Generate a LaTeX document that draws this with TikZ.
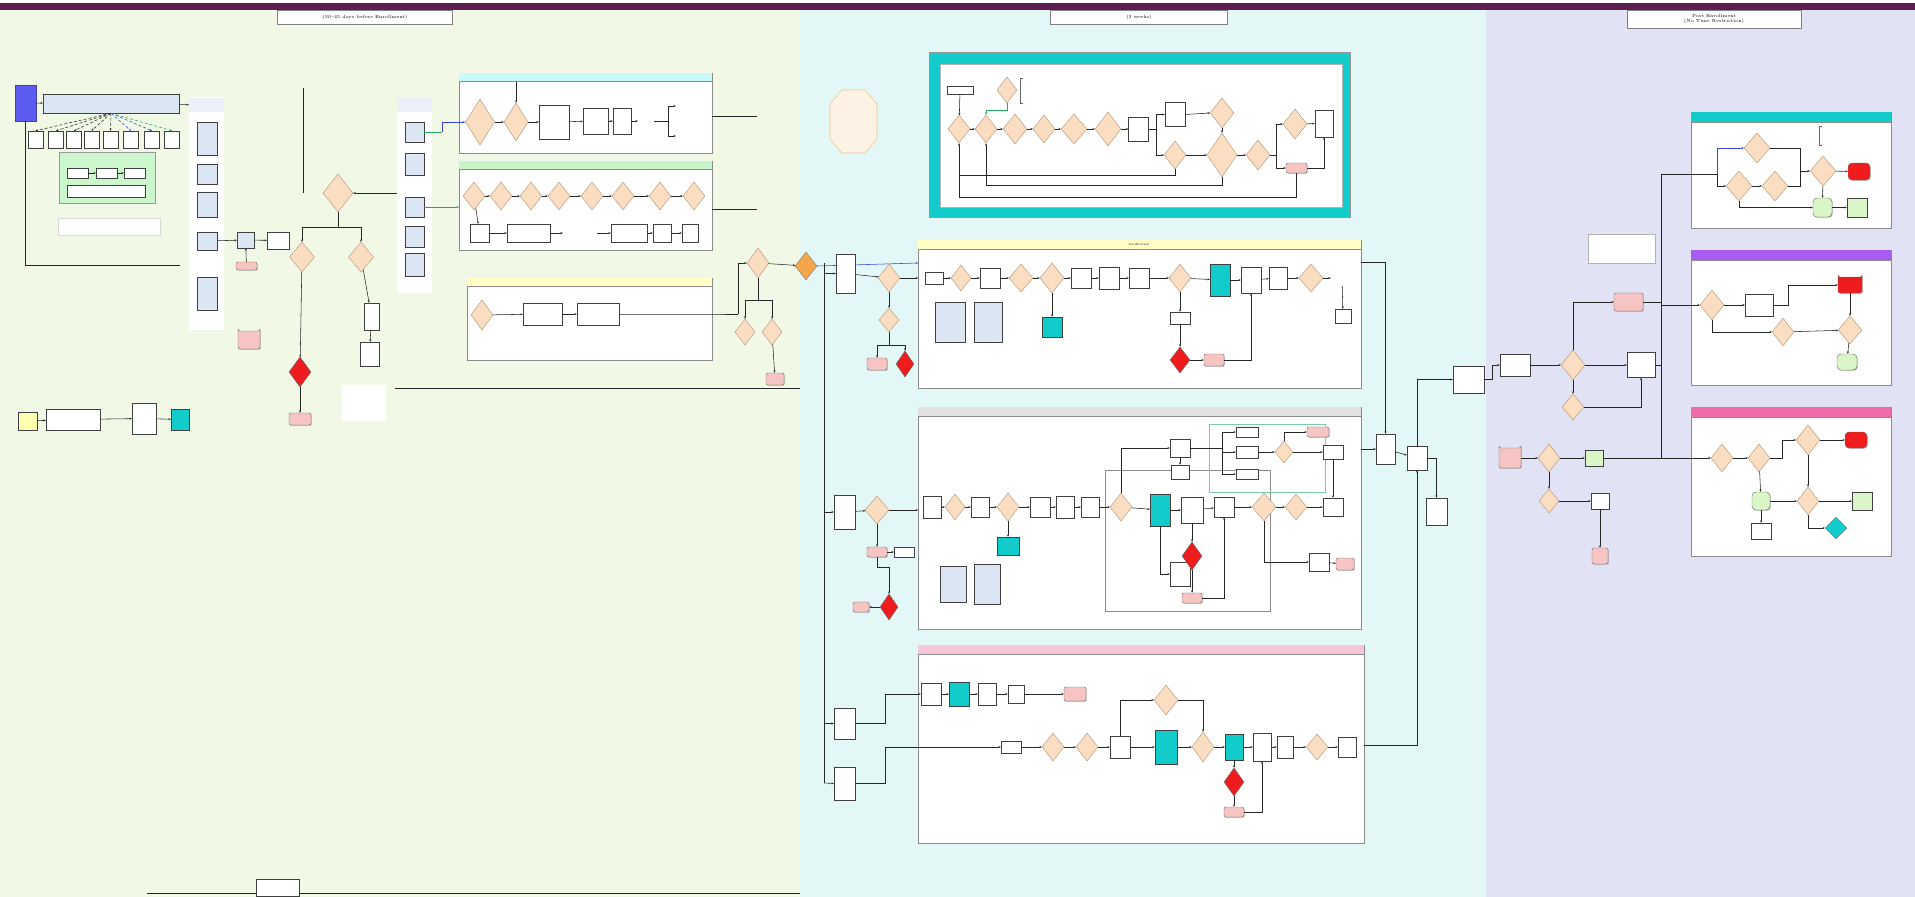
\documentclass[tikz,border=0pt]{standalone}
\usetikzlibrary{shapes.geometric,shapes.misc,arrows.meta,shadows}
\definecolor{barpurple}{HTML}{5F1E50}
\definecolor{leftbg}{HTML}{F1F9E6}
\definecolor{midbg}{HTML}{E3F7F6}
\definecolor{rightbg}{HTML}{E2E2F5}
\definecolor{peach}{HTML}{FBDDC2}
\definecolor{peachline}{HTML}{B89878}
\definecolor{paleblue}{HTML}{DCE6F2}
\definecolor{tealbox}{HTML}{12CCCC}
\definecolor{pinkbox}{HTML}{F7C4C4}
\definecolor{redbox}{HTML}{EE1C1C}
\definecolor{greenbox}{HTML}{DAF5C6}
\definecolor{greenpanel}{HTML}{CCF6CC}
\definecolor{orangebox}{HTML}{F5A64A}
\definecolor{violetbox}{HTML}{5C5CF2}
\definecolor{hdcyan}{HTML}{C8FAFA}
\definecolor{hdgreen}{HTML}{C8F5C8}
\definecolor{hdyellow}{HTML}{FFFFC6}
\definecolor{hdgrey}{HTML}{E2E2E2}
\definecolor{hdpink}{HTML}{F7C6DA}
\definecolor{hdviolet}{HTML}{A85CF2}
\definecolor{hdrose}{HTML}{F06AA8}
\definecolor{notefill}{HTML}{FDF2E4}
\definecolor{noteline}{HTML}{F2C890}
\definecolor{flowblue}{HTML}{3344DD}
\definecolor{flowgreen}{HTML}{22AA66}
\definecolor{startyellow}{HTML}{FFFFB0}
\begin{document}
\begin{tikzpicture}[x=1pt,y=-1pt,>={Stealth[length=2.4pt,width=2pt]}]
  \tikzstyle{txt}=[rectangle,inner sep=0pt,font=\fontsize{3}{3.6}\selectfont,align=center]
  \tikzstyle{proc}=[txt,draw=black!75,fill=white,line width=0.45pt,general shadow={fill=black!35,shadow xshift=0.7pt,shadow yshift=-0.7pt}]
  \tikzstyle{bproc}=[proc,fill=paleblue]
  \tikzstyle{cproc}=[proc,fill=tealbox]
  \tikzstyle{gproc}=[proc,fill=greenbox]
  \tikzstyle{term}=[proc,rounded corners=2pt,fill=pinkbox,draw=black!55]
  \tikzstyle{dec}=[diamond,draw=peachline,fill=peach,line width=0.45pt,inner sep=0pt]
  \tikzstyle{rdec}=[dec,fill=redbox,draw=black!60]
  \tikzstyle{panel}=[draw=black!45,fill=white,line width=0.6pt,general shadow={fill=black!25,shadow xshift=1pt,shadow yshift=-1pt}]
  \tikzstyle{hdr}=[txt,draw=black!50,fill=white,font=\fontsize{4.5}{5.5}\selectfont]
  \tikzstyle{edge}=[draw=black!85,line width=0.55pt,->]
  \tikzstyle{wire}=[draw=black!85,line width=0.55pt]

  % backgrounds of the three phases
  \fill[white] (0,0) rectangle (1915,897);
  \fill[leftbg] (0,10) rectangle (800,897);
  \fill[midbg] (800,10) rectangle (1486,897);
  \fill[rightbg] (1486,10) rectangle (1915,897);
  \fill[barpurple] (0,2.5) rectangle (1915,10);
  \node[hdr,minimum width=175,minimum height=14] (hpre) at (365,17) {(30--45 days before Enrollment)};
  \node[hdr,minimum width=177,minimum height=14] (henr) at (1139,17) {(3 weeks)};
  \node[hdr,minimum width=174,minimum height=18] (hpost) at (1714,19) {Post Enrollment\\(No Time Restriction)};

  % pre enrollment: intake
  \node[proc,fill=violetbox,draw=violetbox!70!black,minimum width=21,minimum height=36] (entry) at (25.5,103) {};
  \node[bproc,minimum width=136,minimum height=19] (intake) at (111,103.5) {};
  \fill[white] (189,97) rectangle (224,330);
  \node[txt,fill=paleblue!60,minimum width=35,minimum height=14] (nexthd) at (206.5,105) {};
  \draw[edge] (entry) -- (intake);
  \draw[edge] (intake) -- (nexthd);
  \foreach \x [count=\i] in {35.5,56,74,91.5,110.5,131,152,172}
    \node[proc,minimum width=15,minimum height=17] (sb\i) at (\x,139.5) {};
  \foreach \i in {1,...,5}
    \draw[edge,densely dashed] (intake.south) -- (sb\i.north);
  \draw[edge,densely dashed,flowblue] (intake.south) -- (sb6.north);
  \draw[edge,densely dashed,flowblue] (intake.south) -- (sb7.north);
  \draw[edge,densely dashed,flowgreen] (intake.south) -- (sb8.north);
  \draw[draw=black!40,fill=greenpanel] (59,152) rectangle (155,203);
  \node[proc,minimum width=21,minimum height=10] (gs1) at (77.5,173) {};
  \node[proc,minimum width=21,minimum height=10] (gs2) at (106.5,173) {};
  \node[proc,minimum width=21,minimum height=10] (gs3) at (134.5,173) {};
  \node[proc,minimum width=78,minimum height=12] (gs4) at (106,191) {};
  \draw[edge] (gs1) -- (gs2);
  \draw[edge] (gs2) -- (gs3);
  \node[txt,draw=black!15,fill=white,minimum width=102,minimum height=17] (legnote) at (109,227) {};
  \coordinate (leftend) at (180,265);
  \draw[wire] (entry.south) |- (leftend);

  % provider column
  \node[bproc,minimum width=20,minimum height=33] (col1) at (207,138.5) {};
  \node[bproc,minimum width=20,minimum height=20] (col2) at (207,174) {};
  \node[bproc,minimum width=20,minimum height=25] (col3) at (207,204.5) {};
  \node[bproc,minimum width=20,minimum height=18] (col4) at (207,241) {};
  \node[bproc,minimum width=20,minimum height=33] (col5) at (207,293.5) {};
  \node[bproc,minimum width=17,minimum height=16] (tgt) at (245.5,240) {};
  \node[term,minimum width=21,minimum height=8] (tgtp) at (246.5,266) {};
  \node[proc,minimum width=22,minimum height=17] (tgtb) at (278,240.5) {};
  \draw[edge] (col4) -- (tgt);
  \draw[edge] (tgtp) -- (tgt);
  \draw[edge] (tgt) -- (tgtb);

  % eligibility checks
  \node[dec,minimum width=30,minimum height=38] (dchk) at (338,193) {};
  \node[dec,minimum width=25,minimum height=30] (dlft) at (302,257) {};
  \node[dec,minimum width=25,minimum height=30] (drgt) at (361,257) {};
  \coordinate (topv) at (303,88);
  \coordinate (topvend) at (303,193);
  \coordinate (split) at (338,227);
  \draw[wire] (topv) -- (topvend);
  \draw[wire] (dchk.south) -- (split);
  \draw[edge] (split) -| (dlft.north);
  \draw[edge] (split) -| (drgt.north);
  \node[term,chamfered rectangle,minimum width=22,minimum height=18] (hexp) at (249,340) {};
  \node[rdec,minimum width=22,minimum height=30] (stopd) at (300,372) {};
  \node[term,minimum width=22,minimum height=12] (stopp) at (300,419) {};
  \node[proc,minimum width=15,minimum height=27] (rb1l) at (371.5,316.5) {};
  \node[proc,minimum width=19,minimum height=24] (rb2l) at (369.5,354) {};
  \node[txt,fill=white,minimum width=44,minimum height=36] (rnote) at (364,403) {};
  \draw[edge] (dlft) -- (stopd);
  \draw[edge] (stopd) -- (stopp);
  \draw[edge] (drgt) -- (rb1l);
  \draw[edge] (rb1l) -- (rb2l);

  % additional providers column
  \fill[white] (397,98) rectangle (432,293);
  \node[txt,fill=paleblue!60,minimum width=35,minimum height=14] (addhd) at (414.5,105) {};
  \node[bproc,minimum width=19,minimum height=20] (a1) at (414.5,132) {};
  \node[bproc,minimum width=19,minimum height=22] (a2) at (414.5,164) {};
  \node[bproc,minimum width=19,minimum height=20] (a3) at (414.5,207) {};
  \node[bproc,minimum width=19,minimum height=21] (a4) at (414.5,236.5) {};
  \node[bproc,minimum width=19,minimum height=23] (a5) at (414.5,264.5) {};
  \coordinate (addin) at (397,193);
  \draw[edge] (addin) -- (dchk.east);

  % panel one
  \draw[panel] (459,73) rectangle (712,153);
  \fill[hdcyan] (459.3,73.3) rectangle (711.7,81);
  \draw[black!45] (459,81) -- (712,81);
  \node[dec,minimum width=29,minimum height=46] (p1d1) at (480,122) {};
  \node[dec,minimum width=24,minimum height=38] (p1d2) at (516,122) {};
  \node[proc,minimum width=30,minimum height=34] (p1b1) at (554,122) {};
  \node[proc,minimum width=25,minimum height=26] (p1b2) at (595.5,121) {};
  \node[proc,minimum width=18,minimum height=26] (p1b3) at (622,121) {};
  \node[txt,minimum width=16,minimum height=8] (p1t) at (646,121) {};
  \node[txt,minimum width=24,minimum height=8] (p1o1) at (688,106) {};
  \node[txt,minimum width=24,minimum height=8] (p1o2) at (688,136) {};
  \coordinate (p1fork) at (668,121);
  \coordinate (p1top) at (516,82);
  \draw[edge] (p1d1) -- (p1d2);
  \draw[edge] (p1d2) -- (p1b1);
  \draw[edge] (p1b1) -- (p1b2);
  \draw[edge] (p1b2) -- (p1b3);
  \draw[edge] (p1b3) -- (p1t);
  \draw[wire] (p1t) -- (p1fork);
  \draw[edge] (p1fork) |- (p1o1.west);
  \draw[edge] (p1fork) |- (p1o2.west);
  \draw[edge] (p1top) -- (p1d2.north);
  \coordinate (bend1) at (442,132);
  \draw[wire,flowgreen,line width=0.7pt] (a1.east) -- (bend1);
  \draw[edge,flowblue] (bend1) |- (p1d1.west);
  \coordinate (p1r) at (712,116);
  \coordinate (p1out) at (757,116);
  \draw[wire] (p1r) -- (p1out);

  % panel two
  \draw[panel] (459,161) rectangle (712,250);
  \fill[hdgreen] (459.3,161.3) rectangle (711.7,169);
  \draw[black!45] (459,169) -- (712,169);
  \foreach \x [count=\i] in {474,501,531,559,592,623,660,694}
    \node[dec,minimum width=22,minimum height=28] (p2d\i) at (\x,196) {};
  \foreach \i [count=\j from 2] in {1,...,7}
    \draw[edge] (p2d\i) -- (p2d\j);
  \node[proc,minimum width=19,minimum height=18] (p2b1) at (479.5,233) {};
  \node[proc,minimum width=43,minimum height=18] (p2b2) at (528.5,233) {};
  \node[txt,minimum width=34,minimum height=18] (p2b3) at (580,233) {};
  \node[proc,minimum width=36,minimum height=18] (p2b4) at (629,233) {};
  \node[proc,minimum width=18,minimum height=18] (p2b5) at (662,233) {};
  \node[proc,minimum width=16,minimum height=18] (p2b6) at (690,233) {};
  \draw[edge] (p2d1) -- (p2b1);
  \draw[edge] (p2b1) -- (p2b2);
  \draw[edge] (p2b2) -- (p2b3);
  \draw[edge] (p2b3) -- (p2b4);
  \draw[edge] (p2b4) -- (p2b5);
  \draw[edge] (p2b5) -- (p2b6);
  \coordinate (p2l) at (459,207);
  \draw[edge,flowgreen] (a3.east) -- (p2l);
  \coordinate (p2r) at (712,209);
  \coordinate (p2out) at (757,209);
  \draw[wire] (p2r) -- (p2out);

  % panel three
  \draw[panel] (467,278) rectangle (712,360);
  \fill[hdyellow] (467.3,278.3) rectangle (711.7,286);
  \draw[black!45] (467,286) -- (712,286);
  \node[dec,minimum width=22,minimum height=30] (p3d) at (482,315) {};
  \node[proc,minimum width=39,minimum height=22] (p3b1) at (542.5,314) {};
  \node[proc,minimum width=42,minimum height=22] (p3b2) at (598,314) {};
  \draw[edge] (p3d) -- (p3b1);
  \draw[edge] (p3b1) -- (p3b2);
  \coordinate (p3r) at (712,314);
  \coordinate (j1) at (738,314);
  \draw[wire] (p3b2) -- (p3r) -- (j1);

  % hand over to enrollment
  \node[dec,minimum width=22,minimum height=30] (dL1) at (758,263) {};
  \node[dec,fill=orangebox,draw=black!50,minimum width=22,minimum height=28] (dL2) at (806,266) {};
  \node[dec,minimum width=20,minimum height=26] (dL3) at (745,332) {};
  \node[dec,minimum width=20,minimum height=26] (dL4) at (772,332) {};
  \node[term,minimum width=18,minimum height=12] (pL) at (775,379) {};
  \coordinate (dLs) at (758,300);
  \draw[edge] (j1) |- (dL1.west);
  \draw[edge] (dL1) -- (dL2);
  \draw[wire] (dL1.south) -- (dLs);
  \draw[edge] (dLs) -| (dL3.north);
  \draw[edge] (dLs) -| (dL4.north);
  \draw[edge] (dL4) -- (pL);
  \coordinate (l388a) at (395,388);
  \coordinate (l388b) at (800,388);
  \draw[wire] (l388a) -- (l388b);

  % bottom left row
  \node[proc,fill=startyellow,minimum width=19,minimum height=18] (ly) at (27.5,421) {};
  \node[proc,minimum width=54,minimum height=21] (lb1) at (73,419.5) {};
  \node[proc,minimum width=24,minimum height=31] (lb2) at (144,418.5) {};
  \node[cproc,minimum width=18,minimum height=21] (lc) at (180,419.5) {};
  \draw[edge] (ly) -- (lb1);
  \draw[edge] (lb1) -- (lb2);
  \draw[edge] (lb2) -- (lc);
  \coordinate (bl1) at (147,893);
  \coordinate (bl2) at (800,893);
  \draw[wire] (bl1) -- (bl2);
  \node[proc,minimum width=43,minimum height=17] (botbox) at (277.5,888) {};

  % enrollment: side column
  \draw[draw=noteline,fill=notefill,line width=0.6pt] (842,90) -- (865,90) -- (877,104) -- (877,139) -- (865,153) -- (842,153) -- (830,139) -- (830,104) -- cycle;
  \coordinate (octnote) at (853.5,121.5);
  \coordinate (vbus1) at (824,263);
  \coordinate (vbus2) at (824,783);
  \coordinate (ypin) at (918,263);
  \draw[edge,flowblue] (dL2.east) -- (ypin);
  \draw[wire] (vbus1) -- (vbus2);
  \node[proc,minimum width=19,minimum height=39] (mc1) at (845.5,273.5) {};
  \node[dec,minimum width=22,minimum height=28] (mcd1) at (889,278) {};
  \node[dec,minimum width=20,minimum height=24] (mcd2) at (889,320) {};
  \node[term,minimum width=20,minimum height=12] (mp1) at (877,364) {};
  \node[rdec,minimum width=18,minimum height=26] (mrd1) at (905,364) {};
  \coordinate (ypin2) at (918,278);
  \coordinate (mcs) at (889,345);
  \draw[edge] (vbus1 |- mc1.west) -- (mc1.west);
  \draw[edge] (mc1) -- (mcd1);
  \draw[edge] (mcd1) -- (ypin2);
  \draw[edge] (mcd1) -- (mcd2);
  \draw[wire] (mcd2.south) -- (mcs);
  \draw[edge] (mcs) -| (mp1.north);
  \draw[edge] (mcs) -| (mrd1.north);
  \node[proc,minimum width=21,minimum height=34] (mc2) at (844.5,512) {};
  \node[dec,minimum width=24,minimum height=28] (mcd3) at (877,510) {};
  \node[term,minimum width=20,minimum height=10] (mp2) at (877,552) {};
  \node[proc,minimum width=20,minimum height=10] (mb2) at (904,552) {};
  \node[rdec,minimum width=18,minimum height=26] (mrd2) at (889,607) {};
  \node[term,minimum width=16,minimum height=10] (mp3) at (861,607) {};
  \coordinate (gpin) at (918,510);
  \draw[edge] (vbus1 |- mc2.west) -- (mc2.west);
  \draw[edge] (mc2) -- (mcd3);
  \draw[edge] (mcd3) -- (gpin);
  \draw[edge] (mcd3) -- (mp2);
  \draw[edge] (mp2) -- (mb2);
  \draw[edge] (mp2.south) -- ++(0,10) -| (mrd2.north);
  \draw[edge] (mrd2) -- (mp3);
  \node[proc,minimum width=21,minimum height=31] (mc3) at (844.5,723.5) {};
  \node[proc,minimum width=21,minimum height=33] (mc4) at (844.5,783.5) {};
  \draw[edge] (vbus1 |- mc3.west) -- (mc3.west);
  \draw[edge] (vbus2) -- (mc4.west);

  % enrollment: cyan process
  \fill[tealbox] (929,52) rectangle (1350,217);
  \draw[black!40] (929,52) rectangle (1350,217);
  \draw[black!30,fill=white] (940,64) rectangle (1342,207);
  \node[proc,minimum width=26,minimum height=8] (c0) at (960,90) {};
  \node[dec,minimum width=20,minimum height=26] (cd0) at (1007,90) {};
  \node[txt,minimum width=36,minimum height=24] (cnote) at (1040,90) {};
  \draw[black!60] (1023,78) -- (1020,78) -- (1020,103) -- (1023,103);
  \node[dec,minimum width=22,minimum height=28] (cd1) at (959,129) {};
  \node[dec,minimum width=22,minimum height=28] (cd2) at (986,129) {};
  \node[dec,minimum width=24,minimum height=30] (cd3) at (1015,129) {};
  \node[dec,minimum width=22,minimum height=28] (cd4) at (1044,129) {};
  \node[dec,minimum width=26,minimum height=30] (cd5) at (1074,129) {};
  \node[dec,minimum width=26,minimum height=34] (cd6) at (1108,129) {};
  \node[proc,minimum width=20,minimum height=24] (cb1) at (1138.5,129) {};
  \node[proc,minimum width=20,minimum height=24] (cb2) at (1175,114.5) {};
  \node[dec,minimum width=22,minimum height=28] (cd7) at (1175,155) {};
  \node[dec,minimum width=24,minimum height=30] (cd8) at (1222,113) {};
  \node[dec,minimum width=30,minimum height=44] (cd9) at (1222,155) {};
  \node[dec,minimum width=24,minimum height=30] (cd10) at (1258,155) {};
  \node[dec,minimum width=24,minimum height=30] (cd11) at (1295,124) {};
  \node[proc,minimum width=18,minimum height=27] (cb3) at (1324,123.5) {};
  \node[term,minimum width=21,minimum height=10] (cp1) at (1296.5,168) {};
  \draw[edge] (c0) -- (cd1);
  \draw[edge,flowgreen] (cd0.south) -- ++(0,7) -| (cd2.north);
  \foreach \a/\b in {cd1/cd2,cd2/cd3,cd3/cd4,cd4/cd5,cd5/cd6,cd6/cb1}
    \draw[edge] (\a) -- (\b);
  \coordinate (cfork) at (1156,129);
  \coordinate (cfork2) at (1276,155);
  \draw[wire] (cb1) -- (cfork);
  \draw[edge] (cfork) |- (cb2.west);
  \draw[edge] (cfork) |- (cd7.west);
  \draw[edge] (cb2.east) -- (cd8.west);
  \draw[edge] (cd7) -- (cd9);
  \draw[edge] (cd8) -- (cd9);
  \draw[edge] (cd9) -- (cd10);
  \draw[wire] (cd10) -- (cfork2);
  \draw[edge] (cfork2) |- (cd11.west);
  \draw[edge] (cfork2) |- (cp1.west);
  \draw[edge] (cd11) -- (cb3);
  \draw[edge] (cp1.east) -| (cb3.south);
  \coordinate (cl1) at (959,175);
  \coordinate (cl2) at (986,185);
  \coordinate (cl3) at (959,197);
  \draw[edge] (cd7.south) |- (cl1) -- (cd1.south);
  \draw[edge] (cd9.south) |- (cl2) -- (cd2.south);
  \draw[wire] (cp1.south) |- (cl3) -- (cl1);

  % enrollment: verification
  \draw[panel] (918,240) rectangle (1361,388);
  \fill[hdyellow] (918.3,240.3) rectangle (1360.7,249);
  \draw[black!45] (918,249) -- (1361,249);
  \node[txt] (yhd) at (1139,244.5) {Verification};
  \node[proc,minimum width=18,minimum height=12] (yb1) at (934,278) {};
  \node[dec,minimum width=20,minimum height=26] (yd1) at (961,278) {};
  \node[proc,minimum width=20,minimum height=20] (yb2) at (990,278) {};
  \node[dec,minimum width=24,minimum height=28] (yd2) at (1021,278) {};
  \node[dec,minimum width=24,minimum height=30] (yd3) at (1052,278) {};
  \node[proc,minimum width=20,minimum height=20] (yb3) at (1081,278) {};
  \node[proc,minimum width=20,minimum height=22] (yb4) at (1109,278) {};
  \node[proc,minimum width=20,minimum height=20] (yb5) at (1139,278) {};
  \node[dec,minimum width=22,minimum height=28] (yd4) at (1180,278) {};
  \node[cproc,minimum width=20,minimum height=32] (yc1) at (1220,280) {};
  \node[proc,minimum width=20,minimum height=26] (yb6) at (1251,280) {};
  \node[proc,minimum width=18,minimum height=22] (yb7) at (1278,278) {};
  \node[dec,minimum width=24,minimum height=28] (yd5) at (1311,278) {};
  \node[txt,minimum width=22,minimum height=16] (yt1) at (1342,278) {};
  \foreach \a/\b in {yb1/yd1,yd1/yb2,yb2/yd2,yd2/yd3,yd3/yb3,yb3/yb4,yb4/yb5,yb5/yd4,yd4/yc1,yc1/yb6,yb6/yb7,yb7/yd5,yd5/yt1}
    \draw[edge] (\a) -- (\b);
  \node[bproc,minimum width=30,minimum height=40] (ydoc1) at (950,322) {};
  \node[bproc,minimum width=28,minimum height=40] (ydoc2) at (988,322) {};
  \node[cproc,minimum width=20,minimum height=20] (yc2) at (1052,327) {};
  \node[proc,minimum width=20,minimum height=12] (yb8) at (1180,318) {};
  \node[rdec,minimum width=20,minimum height=26] (yrd) at (1180,360) {};
  \node[term,minimum width=20,minimum height=12] (yp) at (1214,360) {};
  \node[proc,minimum width=16,minimum height=14] (yb9) at (1343,316) {};
  \draw[edge] (yd3) -- (yc2);
  \draw[edge] (yd4) -- (yb8);
  \draw[edge] (yb8) -- (yrd);
  \draw[edge] (yrd) -- (yp);
  \draw[edge] (yp.east) -| (yb6.south);
  \draw[edge] (yt1) -- (yb9);

  % enrollment: transfers
  \draw[panel] (918,407) rectangle (1361,629);
  \fill[hdgrey] (918.3,407.3) rectangle (1360.7,416);
  \draw[black!45] (918,416) -- (1361,416);
  \draw[black!45] (1105,470) rectangle (1270,611);
  \draw[flowgreen!60] (1209,424) rectangle (1325,492);
  \node[proc,minimum width=18,minimum height=22] (gb1) at (932,507) {};
  \node[dec,minimum width=20,minimum height=26] (gd1) at (955,507) {};
  \node[proc,minimum width=18,minimum height=20] (gb2) at (980,507) {};
  \node[dec,minimum width=22,minimum height=28] (gd2) at (1008,507) {};
  \node[proc,minimum width=20,minimum height=20] (gb3) at (1040,507) {};
  \node[proc,minimum width=18,minimum height=22] (gb4) at (1065,507) {};
  \node[proc,minimum width=18,minimum height=20] (gb5) at (1090,507) {};
  \node[dec,minimum width=22,minimum height=28] (gd3) at (1121,507) {};
  \node[cproc,minimum width=20,minimum height=32] (gc1) at (1160,510) {};
  \node[proc,minimum width=22,minimum height=26] (gb6) at (1192,510) {};
  \node[proc,minimum width=20,minimum height=20] (gb7) at (1224,507) {};
  \node[dec,minimum width=24,minimum height=28] (gd4) at (1264,507) {};
  \node[dec,minimum width=22,minimum height=26] (gd5) at (1296,507) {};
  \node[proc,minimum width=20,minimum height=18] (gb8) at (1333,507) {};
  \foreach \a/\b in {gb1/gd1,gd1/gb2,gb2/gd2,gd2/gb3,gb3/gb4,gb4/gb5,gb5/gd3,gd3/gc1,gc1/gb6,gb6/gb7,gb7/gd4,gd4/gd5,gd5/gb8}
    \draw[edge] (\a) -- (\b);
  \node[proc,minimum width=20,minimum height=18] (gu1) at (1180,448) {};
  \node[proc,minimum width=18,minimum height=14] (gu2) at (1180,472) {};
  \node[proc,minimum width=22,minimum height=10] (gu3) at (1247,432) {};
  \node[proc,minimum width=22,minimum height=12] (gu4) at (1247,452) {};
  \node[proc,minimum width=22,minimum height=10] (gu5) at (1247,474) {};
  \node[dec,minimum width=18,minimum height=22] (gd6) at (1284,452) {};
  \node[term,minimum width=22,minimum height=10] (gp1) at (1318,432) {};
  \node[proc,minimum width=20,minimum height=14] (gb9) at (1333,452) {};
  \coordinate (gfk) at (1222,448);
  \draw[edge] (gd3.north) |- (gu1.west);
  \draw[edge] (gu1) -- (gu2);
  \draw[wire] (gu1.east) -- (gfk);
  \draw[edge] (gfk) |- (gu3.west);
  \draw[edge] (gfk) |- (gu4.west);
  \draw[edge] (gfk) |- (gu5.west);
  \draw[edge] (gu4) -- (gd6);
  \draw[edge] (gd6.north) |- (gp1.west);
  \draw[edge] (gd6) -- (gb9);
  \draw[edge] (gb9) -- (gb8);
  \node[bproc,minimum width=26,minimum height=36] (gdoc1) at (953,584) {};
  \node[bproc,minimum width=26,minimum height=40] (gdoc2) at (987,584) {};
  \node[cproc,minimum width=22,minimum height=18] (gc2) at (1008,546) {};
  \node[proc,minimum width=20,minimum height=24] (gb10) at (1180,574) {};
  \node[rdec,minimum width=20,minimum height=28] (grd) at (1192,556) {};
  \node[term,minimum width=20,minimum height=10] (gp2) at (1192,598) {};
  \node[proc,minimum width=20,minimum height=18] (gb11) at (1319,562) {};
  \node[term,minimum width=18,minimum height=12] (gp3) at (1345,564) {};
  \draw[edge] (gd2) -- (gc2);
  \draw[edge] (gc1.south) |- (gb10.west);
  \draw[edge] (gb6) -- (grd);
  \draw[edge] (grd) -- (gp2);
  \draw[edge] (gp2.east) -| (gb7.south);
  \draw[edge] (gd4.south) |- (gb11.west);
  \draw[edge] (gb11) -- (gp3);

  % enrollment: paperwork
  \draw[panel] (918,645) rectangle (1364,843);
  \fill[hdpink] (918.3,645.3) rectangle (1363.7,654);
  \draw[black!45] (918,654) -- (1364,654);
  \node[proc,minimum width=20,minimum height=22] (pb1) at (931,694) {};
  \node[cproc,minimum width=20,minimum height=24] (pc1) at (959,694) {};
  \node[proc,minimum width=18,minimum height=22] (pb2) at (987,694) {};
  \node[proc,minimum width=16,minimum height=18] (pb3) at (1016,694) {};
  \node[term,minimum width=22,minimum height=14] (pp1) at (1075,694) {};
  \draw[edge] (pb1) -- (pc1);
  \draw[edge] (pc1) -- (pb2);
  \draw[edge] (pb2) -- (pb3);
  \draw[edge] (pb3) -- (pp1);
  \node[proc,minimum width=20,minimum height=12] (pb4) at (1011,747) {};
  \node[dec,minimum width=22,minimum height=28] (pd1) at (1053,747) {};
  \node[dec,minimum width=22,minimum height=28] (pd2) at (1087,747) {};
  \node[proc,minimum width=20,minimum height=22] (pb5) at (1120,747) {};
  \node[dec,minimum width=24,minimum height=30] (pd3) at (1166,700) {};
  \node[cproc,minimum width=22,minimum height=34] (pc2) at (1166,747) {};
  \node[dec,minimum width=22,minimum height=30] (pd4) at (1203,747) {};
  \node[cproc,minimum width=18,minimum height=26] (pc3) at (1234,747) {};
  \node[proc,minimum width=18,minimum height=28] (pb6) at (1262,747) {};
  \node[proc,minimum width=16,minimum height=22] (pb7) at (1285,747) {};
  \node[dec,minimum width=22,minimum height=26] (pd5) at (1317,747) {};
  \node[proc,minimum width=18,minimum height=20] (pb8) at (1347,747) {};
  \foreach \a/\b in {pb4/pd1,pd1/pd2,pd2/pb5,pb5/pc2,pc2/pd4,pd4/pc3,pc3/pb6,pb6/pb7,pb7/pd5,pd5/pb8}
    \draw[edge] (\a) -- (\b);
  \node[rdec,minimum width=20,minimum height=28] (pr) at (1234,782) {};
  \node[term,minimum width=20,minimum height=10] (pp2) at (1234,812) {};
  \draw[edge] (pc3) -- (pr);
  \draw[edge] (pr) -- (pp2);
  \draw[edge] (pp2.east) -| (pb6.south);
  \draw[edge] (pb5.north) |- (pd3.west);
  \draw[edge] (pd3.east) -| (pd4.north);
  \draw[edge] (mc3.east) -- ++(30,0) |- (pb1.west);
  \draw[edge] (mc4.east) -- ++(30,0) |- (pb4.west);

  % enrollment: completion
  \node[proc,minimum width=19,minimum height=30] (rb1) at (1385.5,449) {};
  \node[proc,minimum width=20,minimum height=24] (rb2) at (1417,458) {};
  \node[proc,minimum width=21,minimum height=27] (rb3) at (1436.5,511.5) {};
  \node[proc,minimum width=31,minimum height=27] (rb4) at (1468.5,379.5) {};
  \coordinate (ypout) at (1361,262);
  \coordinate (gpout) at (1361,449);
  \coordinate (ppout) at (1364,745);
  \draw[edge] (ypout) -| (rb1.north);
  \draw[edge] (gpout) -- (rb1.west);
  \draw[edge] (rb1) -- (rb2);
  \draw[edge] (ppout) -| (rb2.south);
  \draw[edge] (rb2.east) -| (rb3.north);
  \draw[edge] (rb2.north) |- (rb4.west);

  % post enrollment
  \node[proc,minimum width=30,minimum height=22] (xb1) at (1515,365) {};
  \node[dec,minimum width=24,minimum height=30] (xd1) at (1573,365) {};
  \node[dec,minimum width=22,minimum height=26] (xd2) at (1573,407) {};
  \node[term,minimum width=29,minimum height=18] (xp1) at (1628.5,302) {};
  \node[proc,minimum width=28,minimum height=25] (xb2) at (1641,365) {};
  \node[proc,draw=black!30,minimum width=67,minimum height=29] (xt1) at (1621.5,248.5) {};
  \node[term,chamfered rectangle,minimum width=22,minimum height=20] (xh) at (1510,458) {};
  \node[dec,minimum width=22,minimum height=28] (xd3) at (1549,458) {};
  \node[dec,minimum width=20,minimum height=24] (xd4) at (1549,501) {};
  \node[gproc,minimum width=18,minimum height=16] (xg) at (1594,458) {};
  \node[proc,minimum width=18,minimum height=16] (xb3) at (1600,501) {};
  \node[term,minimum width=16,minimum height=16] (xp2) at (1600,556) {};
  \coordinate (bus1) at (1661,174);
  \coordinate (bus2) at (1661,458);
  \coordinate (bus3) at (1661,305);
  \draw[wire] (bus1) -- (bus2);
  \draw[edge] (rb4.east) -- ++(8,0) |- (xb1.west);
  \draw[edge] (xb1) -- (xd1);
  \draw[edge] (xd1.north) |- (xp1.west);
  \draw[wire] (xp1.east) -- (xp1.east -| bus1);
  \draw[edge] (xd1) -- (xb2);
  \draw[wire] (xb2.east) -- (xb2.east -| bus1);
  \draw[edge] (xd1) -- (xd2);
  \draw[edge] (xd2.east) -| (xb2.south);
  \draw[edge] (xh) -- (xd3);
  \draw[edge] (xd3) -- (xg);
  \draw[wire] (xg) -- (bus2);
  \draw[edge] (xd3) -- (xd4);
  \draw[edge] (xd4) -- (xb3);
  \draw[edge] (xb3) -- (xp2);

  % post enrollment: first panel
  \draw[panel] (1691,112) rectangle (1891,228);
  \fill[tealbox] (1691.3,112.3) rectangle (1890.7,122);
  \draw[black!45] (1691,122) -- (1891,122);
  \node[dec,minimum width=26,minimum height=30] (r1d1) at (1757,148) {};
  \node[dec,minimum width=26,minimum height=30] (r1d2) at (1739,186) {};
  \node[dec,minimum width=26,minimum height=30] (r1d3) at (1775,186) {};
  \node[dec,minimum width=26,minimum height=30] (r1d4) at (1823,171) {};
  \node[term,fill=redbox,rounded corners=4pt,minimum width=22,minimum height=17] (r1r) at (1859,171.5) {};
  \node[term,fill=greenbox,rounded corners=4pt,minimum width=19,minimum height=19] (r1g1) at (1822.5,207.5) {};
  \node[gproc,minimum width=20,minimum height=19] (r1g2) at (1857,207.5) {};
  \node[txt,minimum width=42,minimum height=18] (r1t) at (1842,135) {};
  \draw[black!60] (1822,126) -- (1819,126) -- (1819,145) -- (1822,145);
  \coordinate (r1fk) at (1717,174);
  \coordinate (r1m) at (1800,171);
  \draw[wire] (bus1) -- (r1fk);
  \draw[edge,flowblue] (r1fk) |- (r1d1.west);
  \draw[edge] (r1fk) |- (r1d2.west);
  \draw[edge] (r1d2) -- (r1d3);
  \draw[wire] (r1d1.east) -| (r1m);
  \draw[wire] (r1d3.east) -| (r1m);
  \draw[edge] (r1m) -- (r1d4.west);
  \draw[edge] (r1d4) -- (r1r);
  \draw[edge] (r1d4) -- (r1g1);
  \draw[edge] (r1g1) -- (r1g2);
  \draw[edge] (r1d2.south) |- (r1g1.west);

  % post enrollment: second panel
  \draw[panel] (1691,250) rectangle (1891,385);
  \fill[hdviolet] (1691.3,250.3) rectangle (1890.7,260);
  \draw[black!45] (1691,260) -- (1891,260);
  \node[dec,minimum width=24,minimum height=30] (r2d1) at (1712,305) {};
  \node[proc,minimum width=28,minimum height=22] (r2b1) at (1759,305) {};
  \node[term,fill=redbox,chamfered rectangle,minimum width=24,minimum height=16] (r2r) at (1850,285) {};
  \node[dec,minimum width=22,minimum height=28] (r2d2) at (1783,332) {};
  \node[dec,minimum width=24,minimum height=28] (r2d3) at (1850,330) {};
  \node[term,fill=greenbox,rounded corners=4pt,minimum width=20,minimum height=16] (r2g) at (1847,362) {};
  \draw[edge] (bus3) -- (r2d1.west);
  \draw[edge] (r2d1) -- (r2b1);
  \draw[edge] (r2b1.east) -- ++(15,0) |- (r2r.west);
  \draw[edge] (r2d1.south) |- (r2d2.west);
  \draw[edge] (r2d2) -- (r2d3);
  \draw[edge] (r2r) -- (r2d3);
  \draw[edge] (r2d3) -- (r2g);

  % post enrollment: third panel
  \draw[panel] (1691,407) rectangle (1891,556);
  \fill[hdrose] (1691.3,407.3) rectangle (1890.7,417);
  \draw[black!45] (1691,417) -- (1891,417);
  \node[dec,minimum width=22,minimum height=28] (r3d1) at (1722,458) {};
  \node[dec,minimum width=22,minimum height=28] (r3d2) at (1759,458) {};
  \node[dec,minimum width=24,minimum height=30] (r3d3) at (1808,440) {};
  \node[term,fill=redbox,rounded corners=4pt,minimum width=22,minimum height=16] (r3r) at (1856,440) {};
  \node[term,fill=greenbox,rounded corners=4pt,minimum width=18,minimum height=18] (r3g) at (1761,501) {};
  \node[dec,minimum width=22,minimum height=28] (r3d4) at (1808,501) {};
  \node[proc,minimum width=20,minimum height=16] (r3b) at (1761,531) {};
  \node[dec,fill=tealbox,draw=black!50,minimum width=22,minimum height=22] (r3c) at (1836,528) {};
  \node[gproc,minimum width=20,minimum height=18] (r3b2) at (1862,501) {};
  \draw[edge] (bus2) -- (r3d1.west);
  \draw[edge] (r3d1) -- (r3d2);
  \draw[edge] (r3d2.east) -- ++(12,0) |- (r3d3.west);
  \draw[edge] (r3d3) -- (r3r);
  \draw[edge] (r3d3) -- (r3d4);
  \draw[edge] (r3d2) -- (r3g);
  \draw[edge] (r3g) -- (r3d4);
  \draw[edge] (r3d4) -- (r3b2);
  \draw[edge] (r3d4.south) |- (r3c.west);
  \draw[edge] (r3g) -- (r3b);
\end{tikzpicture}
\end{document}
